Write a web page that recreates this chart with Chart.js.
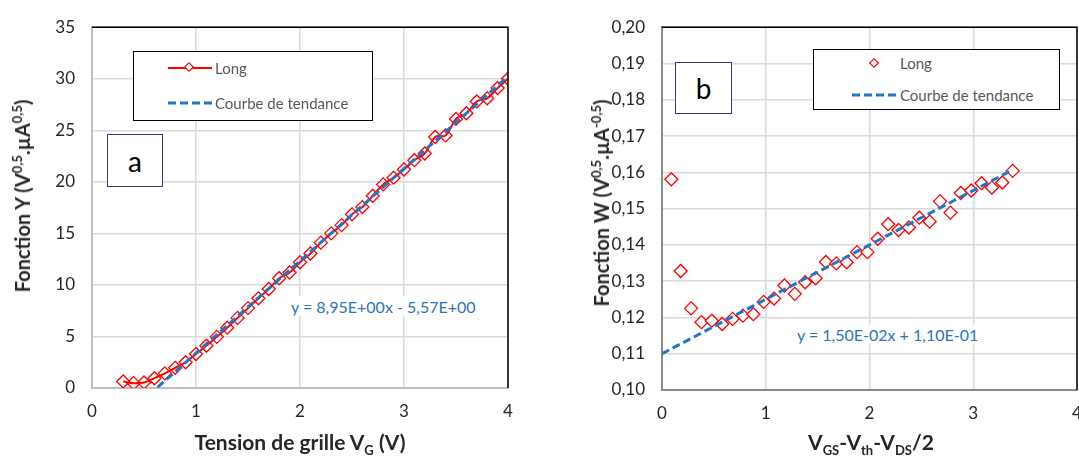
<!DOCTYPE html>
<html>
<head>
<meta charset="utf-8">
<script src="https://cdn.jsdelivr.net/npm/chart.js@4.4.1/dist/chart.umd.min.js"></script>
<style>
  html, body { margin: 0; padding: 0; background: #fff; }
  body { width: 1079px; height: 457px; position: relative; overflow: hidden; font-family: Lato, 'Open Sans', sans-serif; }
  canvas { position: absolute; top: 0; }
  #chartA { left: 0; }
  #chartB { left: 540px; }
  .ov { position: absolute; white-space: nowrap; color: #262626; }
  .ytitle { font-weight: bold; font-size: 20px; transform: translate(-50%, -50%) rotate(-90deg); }
  .xtitle { font-weight: bold; font-size: 21px; transform: translate(-50%, -50%); }
  sup, sub { font-size: 13px; line-height: 0; }
  .legend { position: absolute; border: 1.5px solid #000; background: #fff; box-sizing: border-box; }
  .leg-text { position: absolute; font-size: 15px; color: #595959; transform: translateY(-50%); }
  .tag { position: absolute; border: 1.5px solid #2f3f6b; background: #fff; box-sizing: border-box;
         font-size: 28px; display: flex; align-items: center; justify-content: center; color: #000; }
  .eq { position: absolute; font-size: 16px; color: #2a74bb; transform: translateY(-50%); background: #fff; padding: 0 2px; }
  svg { position: absolute; overflow: visible; }
</style>
</head>
<body>
<canvas id="chartA" width="540" height="457"></canvas>
<canvas id="chartB" width="560" height="457"></canvas>

<div class="ov ytitle" style="left:22px; top:196px;">Fonction Y (V<sup>0,5</sup>.µA<sup>0,5</sup>)</div>
<div class="ov xtitle" style="left:300px; top:441px;">Tension de grille V<sub>G</sub> (V)</div>
<div class="ov ytitle" style="left:601px; top:203px;">Fonction W (V<sup>0,5</sup>.µA<sup>-0,5</sup>)</div>
<div class="ov xtitle" style="left:871px; top:441px;">V<sub>GS</sub>-V<sub>th</sub>-V<sub>DS</sub>/2</div>

<div class="legend" style="left:133px; top:51px; width:240px; height:70px;"></div>
<svg style="left:0; top:0;" width="1" height="1">
  <line x1="168" y1="68" x2="212" y2="68" stroke="#ff0000" stroke-width="2"/>
  <rect x="186" y="64" width="6" height="6" fill="#fff" stroke="#ff0000" stroke-width="1.2" transform="rotate(45 189 67)"/>
  <line x1="168" y1="103" x2="212" y2="103" stroke="#1f77c8" stroke-width="3" stroke-dasharray="8,4"/>
</svg>
<div class="leg-text" style="left:215px; top:68px;">Long</div>
<div class="leg-text" style="left:215px; top:103px;">Courbe de tendance</div>

<div class="legend" style="left:813px; top:49px; width:247px; height:61px;"></div>
<svg style="left:0; top:0;" width="1" height="1">
  <rect x="871" y="60" width="6" height="6" fill="#fff" stroke="#ff0000" stroke-width="1.2" transform="rotate(45 874 63)"/>
  <line x1="852" y1="95" x2="897" y2="95" stroke="#1f77c8" stroke-width="3" stroke-dasharray="8,4"/>
</svg>
<div class="leg-text" style="left:900px; top:63px;">Long</div>
<div class="leg-text" style="left:900px; top:95px;">Courbe de tendance</div>

<div class="tag" style="left:107px; top:134px; width:56px; height:53px;">a</div>
<div class="tag" style="left:675px; top:62px; width:57px; height:52px;">b</div>

<div class="eq" style="left:289px; top:306px;">y = 8,95E+00x - 5,57E+00</div>
<div class="eq" style="left:795px; top:334px;">y = 1,50E-02x + 1,10E-01</div>

<script>
// chart a : Y function vs gate voltage
const gateVoltage = [0.3, 0.4, 0.5, 0.6, 0.7, 0.8, 0.9, 1.0, 1.1, 1.2, 1.3, 1.4, 1.5, 1.6, 1.7, 1.8, 1.9, 2.0, 2.1,
    2.2, 2.3, 2.4, 2.5, 2.6, 2.7, 2.8, 2.9, 3.0, 3.1, 3.2, 3.3, 3.4, 3.5, 3.6, 3.7, 3.8, 3.9, 4.0];
const yFunction = [0.63, 0.47, 0.54, 0.95, 1.42, 1.96, 2.5, 3.3, 4.1, 4.96, 5.85, 6.8, 7.75, 8.7, 9.6, 10.65, 11.2,
    12.2, 13.05, 14.1, 15.0, 15.8, 16.85, 17.55, 18.65, 19.75, 20.4, 21.2, 22.1, 22.75, 24.35, 24.5, 26.1, 26.65,
    27.8, 28.1, 29.1, 30.0];
const trendAX = [0.63, 4.0];
const trendAY = [0.07, 30.23];
const xTicksA = [0, 1, 2, 3, 4];
const yTicksA = [0, 5, 10, 15, 20, 25, 30, 35];

// chart b : W function vs VGS-Vth-VDS/2
const overdrive = [0.09, 0.18, 0.28, 0.38, 0.48, 0.58, 0.68, 0.78, 0.88, 0.98, 1.08, 1.18, 1.28, 1.38, 1.48, 1.58,
    1.68, 1.78, 1.88, 1.98, 2.08, 2.18, 2.28, 2.38, 2.48, 2.58, 2.68, 2.78, 2.88, 2.98, 3.08, 3.18, 3.28, 3.38];
const wFunction = [0.1581, 0.1328, 0.1225, 0.1187, 0.1191, 0.1182, 0.1196, 0.1205, 0.1209, 0.1243, 0.1252, 0.1288,
    0.1265, 0.1297, 0.1308, 0.1353, 0.1349, 0.1352, 0.1380, 0.1380, 0.1417, 0.1457, 0.1441, 0.1448, 0.1475, 0.1464,
    0.1520, 0.1489, 0.1543, 0.1550, 0.1570, 0.1558, 0.1572, 0.1604];
const trendBX = [0, 3.38];
const trendBY = [0.110, 0.1607];
const xTicksB = [0, 1, 2, 3, 4];
const yTicksB = [0.10, 0.11, 0.12, 0.13, 0.14, 0.15, 0.16, 0.17, 0.18, 0.19, 0.20];

const RED = '#ff0000';
const BLUE = '#1f77c8';
const GRID = '#d9d9d9';
const TICK_FONT = { family: 'Lato', size: 17 };

const toPoints = (xs, ys) => xs.map((x, i) => ({ x, y: ys[i] }));

// black top/right frame like the excel plot area
const frame = {
    id: 'frame',
    afterDatasetsDraw(chart) {
        const { ctx, chartArea: a } = chart;
        ctx.save();
        ctx.strokeStyle = '#000';
        ctx.lineWidth = 1.5;
        ctx.beginPath();
        ctx.moveTo(a.left, a.top);
        ctx.lineTo(a.right, a.top);
        ctx.lineTo(a.right, a.bottom);
        ctx.stroke();
        ctx.restore();
    }
};

function makeScales(opts) {
    return {
        x: {
            type: 'linear', min: opts.xTicks[0], max: opts.xTicks[opts.xTicks.length - 1],
            afterBuildTicks: s => { s.ticks = opts.xTicks.map(v => ({ value: v })); },
            afterFit: s => { s.height = opts.xHeight; },
            grid: { color: GRID, lineWidth: 1.5, drawTicks: false },
            border: { color: opts.axisColor, width: 2 },
            ticks: { color: '#262626', font: TICK_FONT, padding: 13, maxRotation: 0,
                     callback: v => String(v) }
        },
        y: {
            type: 'linear', min: opts.yTicks[0], max: opts.yTicks[opts.yTicks.length - 1],
            afterBuildTicks: s => { s.ticks = opts.yTicks.map(v => ({ value: v })); },
            afterFit: s => { s.width = opts.yWidth; },
            grid: { color: GRID, lineWidth: 1.5, drawTicks: false },
            border: { color: opts.axisColor, width: 2 },
            ticks: { color: '#262626', font: TICK_FONT, padding: 17, callback: opts.yFmt }
        }
    };
}

new Chart(document.getElementById('chartA'), {
    type: 'scatter',
    data: {
        datasets: [
            {
                label: 'Courbe de tendance',
                data: toPoints(trendAX, trendAY),
                showLine: true,
                borderColor: BLUE,
                borderWidth: 3,
                borderDash: [8, 4],
                pointRadius: 0,
                order: 0
            },
            {
                label: 'Long',
                data: toPoints(gateVoltage, yFunction),
                showLine: true,
                tension: 0.4,
                borderColor: RED,
                borderWidth: 2,
                pointStyle: 'rectRot',
                pointRadius: 6.5,
                pointBorderWidth: 1.3,
                pointBorderColor: RED,
                pointBackgroundColor: 'rgba(255,255,255,0)',
                order: 1
            }
        ]
    },
    options: {
        responsive: false,
        animation: false,
        layout: { padding: { left: 0, right: 32, top: 20, bottom: 0 } },
        plugins: { legend: { display: false }, tooltip: { enabled: false } },
        scales: makeScales({
            xTicks: xTicksA, yTicks: yTicksA, xHeight: 69, yWidth: 92,
            axisColor: '#bfbfbf', yFmt: v => String(v)
        })
    },
    plugins: [frame]
});

new Chart(document.getElementById('chartB'), {
    type: 'scatter',
    data: {
        datasets: [
            {
                label: 'Courbe de tendance',
                data: toPoints(trendBX, trendBY),
                showLine: true,
                borderColor: BLUE,
                borderWidth: 3,
                borderDash: [8, 4],
                pointRadius: 0,
                order: 0
            },
            {
                label: 'Long',
                data: toPoints(overdrive, wFunction),
                showLine: false,
                pointStyle: 'rectRot',
                pointRadius: 6.5,
                pointBorderWidth: 1.3,
                pointBorderColor: RED,
                pointBackgroundColor: '#fff',
                order: 1
            }
        ]
    },
    options: {
        responsive: false,
        animation: false,
        layout: { padding: { left: 0, right: 23, top: 20, bottom: 0 } },
        plugins: { legend: { display: false }, tooltip: { enabled: false } },
        scales: makeScales({
            xTicks: xTicksB, yTicks: yTicksB, xHeight: 67, yWidth: 122,
            axisColor: '#8c8c8c', yFmt: v => v.toFixed(2).replace('.', ',')
        })
    },
    plugins: [frame]
});
</script>
</body>
</html>
